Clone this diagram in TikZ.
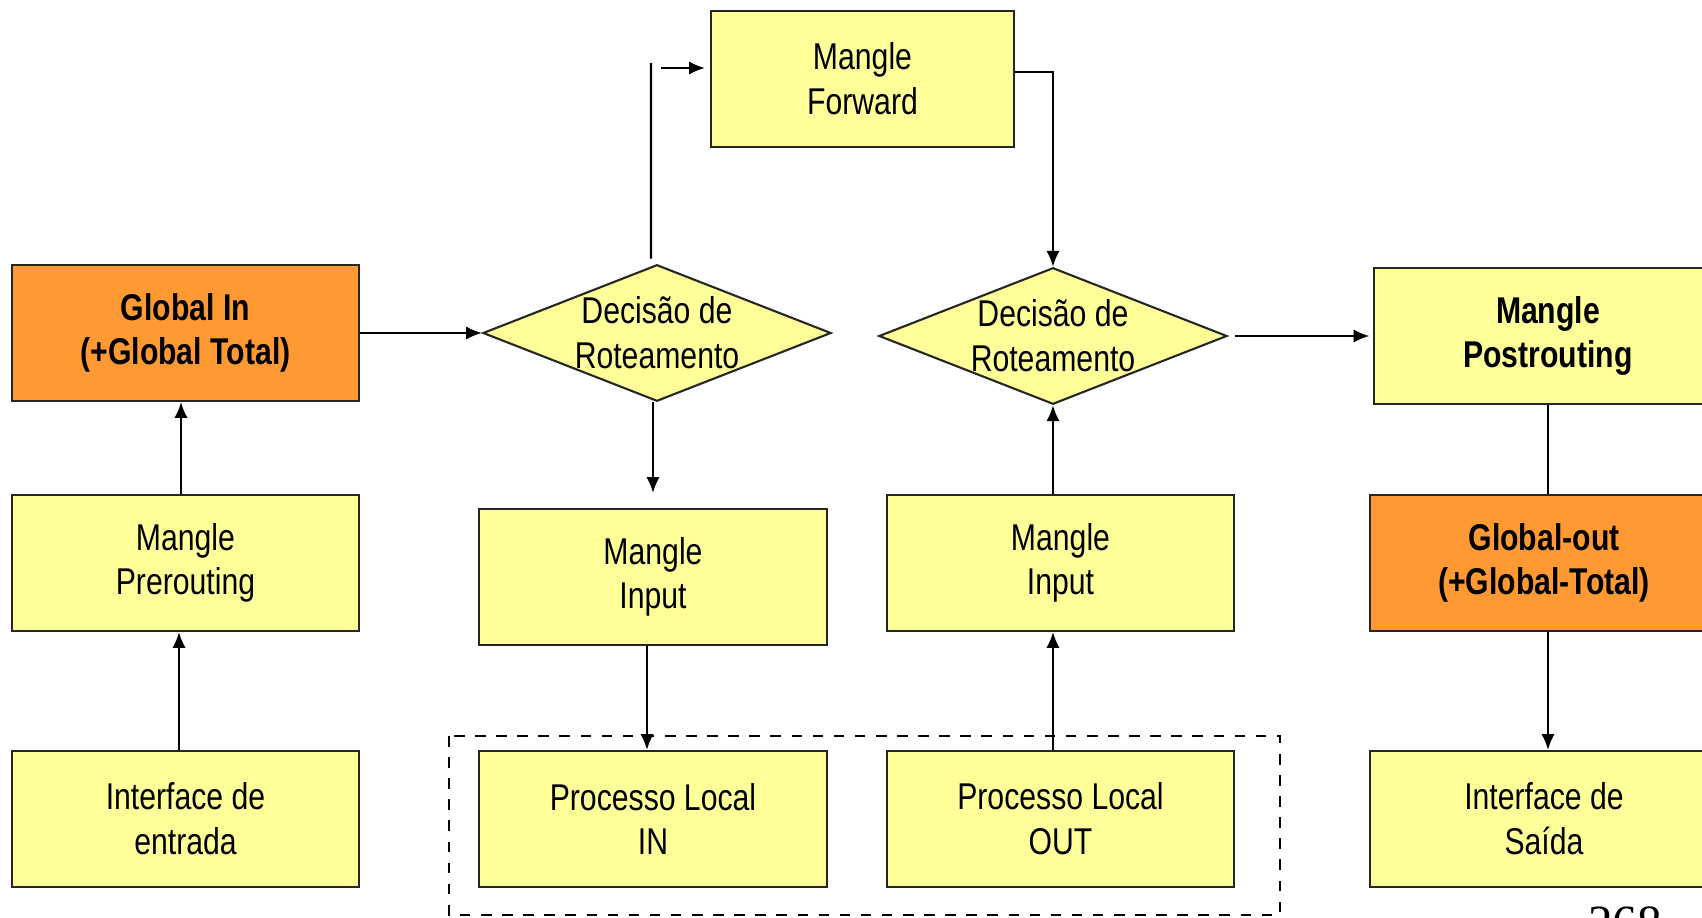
\documentclass[tikz,border=0pt]{standalone}
\usepackage{fontspec}
\setmainfont{Liberation Sans}[FakeStretch=0.81]
\newfontfamily\pagefont{Liberation Serif}
\usetikzlibrary{shapes.geometric,arrows.meta}
\definecolor{boxyellow}{HTML}{FFFF99}
\definecolor{boxorange}{HTML}{FF9933}
\tikzset{
  tablebox/.style={draw=black!85, line width=0.6pt, fill=boxyellow,
    minimum width=3.47cm, minimum height=1.36cm, inner sep=0pt,
    align=center, font=\fontsize{10.6}{12.7}\selectfont},
  globalbox/.style={tablebox, fill=boxorange, font=\fontsize{10.6}{12.7}\selectfont\bfseries},
  decision/.style={tablebox, diamond, aspect=2.55},
  flow/.style={-{Latex[length=4.5pt,width=3.8pt]}, line width=0.6pt},
}
\begin{document}
\begin{tikzpicture}[x=0.01cm, y=-0.01cm]
                \useasboundingbox (0,0) rectangle (1702,918);
                % Frame round the local processes
                \draw[dashed, line width=0.6pt] (449,736) rectangle (1280,915);

                % Input side
                \node[globalbox] (gin) at (185.5,333) {Global In\\(+Global Total)};
                \node[tablebox] (pre) at (185.5,563) {Mangle\\Prerouting};
                \node[tablebox] (ifin) at (185.5,819) {Interface de\\entrada};
                % First routing decision
                \node[decision] (rt1) at (657,333) {Decisão de\\Roteamento};
                \node[tablebox, minimum width=3.48cm] (min1) at (653,577) {Mangle\\Input};
                \node[tablebox, minimum width=3.48cm] (plin) at (653,819) {Processo Local\\IN};
                \node[tablebox, minimum width=3.03cm] (fwd) at (862.5,79) {Mangle\\Forward};
                % Second routing decision
                \node[decision] (rt2) at (1053,336) {Decisão de\\Roteamento};
                \node[tablebox] (min2) at (1060.5,563) {Mangle\\Input};
                \node[tablebox] (plout) at (1060.5,819) {Processo Local\\OUT};
                % Output side
                \node[tablebox, font=\fontsize{10.6}{12.7}\selectfont\bfseries] (post) at (1548,336) {Mangle\\Postrouting};
                \node[globalbox] (gout) at (1544,563) {Global-out\\(+Global-Total)};
                \node[tablebox] (ifout) at (1544,819) {Interface de\\Saída};
                \node[font=\pagefont\fontsize{14}{14}\selectfont, anchor=north, inner sep=0pt] (page) at (1625,906) {268};

                % Points for the forward branch
                \path (651,63) coordinate (fwdtop);
                \path (661,68) coordinate (fwdtail);

                % Connectors
                \draw[flow] ([xshift=-0.065cm]ifin.north) -- ([xshift=-0.065cm]pre.south);
                \draw[flow] ([xshift=-0.045cm]pre.north) -- ([xshift=-0.045cm]gin.south);
                \draw[flow] (gin.east) -- (rt1.west);
                \draw[flow, shorten >=0.15cm] (min1.north |- rt1.south) -- (min1.north);
                \draw[flow] ([xshift=-0.06cm]min1.south) -- ([xshift=-0.06cm]plin.north);
                \draw[line width=0.6pt] ([xshift=-0.06cm,yshift=0.05cm]rt1.north) -- (fwdtop);
                \draw[flow, shorten >=0.05cm] (fwdtail) -- (fwdtail -| fwd.west);
                \draw[flow] ([yshift=0.07cm]fwd.east) -| (rt2.north);
                \draw[flow] (rt2 |- plout.north) -- (rt2 |- min2.south);
                \draw[flow] (rt2 |- min2.north) -- (rt2.south);
                \draw[flow, shorten <=0.07cm, shorten >=0.04cm] (rt2.east) -- (post.west);
                \draw[line width=0.6pt] (post.south) -- (post.south |- gout.north);
                \draw[flow] (post.south |- gout.south) -- (post.south |- ifout.north);
\end{tikzpicture}
\end{document}
